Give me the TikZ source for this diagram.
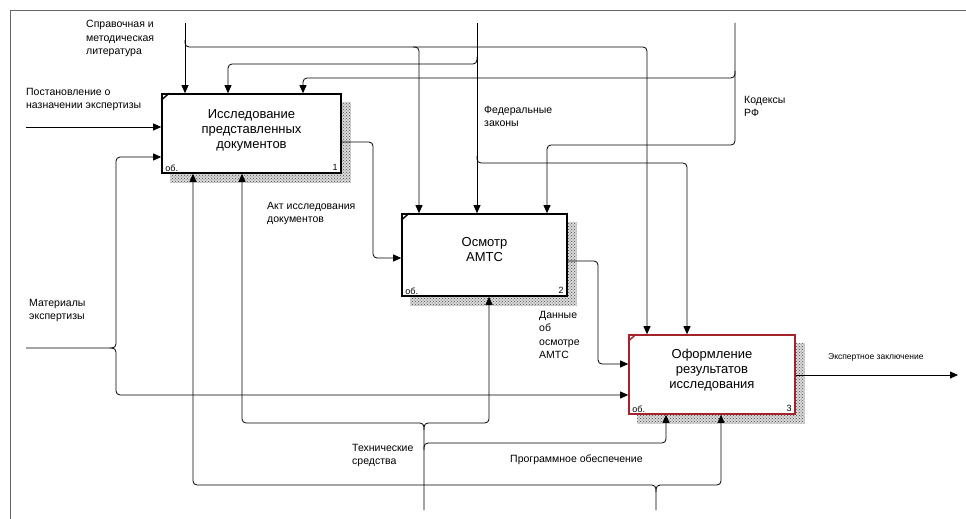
\documentclass[tikz,border=0pt]{standalone}
\usepackage{fontspec}
\setmainfont{Liberation Sans}
\usetikzlibrary{arrows.meta,patterns,calc,backgrounds}
\definecolor{boxred}{RGB}{165,35,45}
\begin{document}
\begin{tikzpicture}[x=1pt,y=-1pt,
  conn/.style={line width=0.8pt, rounded corners=4pt},
  arr/.style={conn,-{Triangle[length=8pt,width=7pt]}},
  fbox/.style={draw, line width=1.6pt, fill=white, inner sep=0pt},
  boxtext/.style={font=\fontsize{13}{15}\selectfont, align=center, inner sep=0pt},
  corner/.style={font=\fontsize{9}{10}\selectfont, inner sep=0pt},
  lbl/.style={font=\fontsize{10.5}{13.5}\selectfont, align=left, anchor=north west, inner sep=0pt},
  shadowbase/.style={fill=gray!30},
  shadowfill/.style={pattern=crosshatch dots, pattern color=gray!60!black},
  tick/.style={line width=1.4pt}
]
\useasboundingbox (0,0) rectangle (966,519);
% frame
\draw[gray!80!black, line width=0.8pt] (10,519) -- (10,10) -- (966,10);

% boxes
\node[fbox, minimum width=179pt, minimum height=79pt] (b1) at (251.5,133.5) {};
\node[fbox, minimum width=165pt, minimum height=82pt] (b2) at (484.5,255) {};
\node[fbox, draw=boxred, minimum width=166pt, minimum height=79pt] (b3) at (712,374.5) {};

\begin{scope}[on background layer]
  \foreach \b in {b1,b2,b3}{
    \fill[shadowbase] ($(\b.north west)+(9,9)$) rectangle ($(\b.south east)+(9,9)$);
    \fill[shadowfill] ($(\b.north west)+(9,9)$) rectangle ($(\b.south east)+(9,9)$);
  }
\end{scope}

% box texts
\node[boxtext] (t1) at (251.5,130) {Исследование\\представленных\\документов};
\node[boxtext] (t2) at (484.5,250) {Осмотр\\АМТС};
\node[boxtext] (t3) at (712,370) {Оформление\\результатов\\исследования};

\node[corner, anchor=west] (o1) at ($(b1.south west)+(4,-6)$) {об.};
\node[corner, anchor=east] (n1) at ($(b1.south east)+(-4,-6)$) {1};
\node[corner, anchor=west] (o2) at ($(b2.south west)+(4,-6)$) {об.};
\node[corner, anchor=east] (n2) at ($(b2.south east)+(-4,-6)$) {2};
\node[corner, anchor=west] (o3) at ($(b3.south west)+(4,-6)$) {об.};
\node[corner, anchor=east] (n3) at ($(b3.south east)+(-4,-6)$) {3};

% corner ticks
\draw[tick] ($(b1.north west)+(0,7)$) -- ($(b1.north west)+(8,0)$);
\draw[tick] ($(b2.north west)+(0,7)$) -- ($(b2.north west)+(8,0)$);
\draw[tick, boxred] ($(b3.north west)+(0,7)$) -- ($(b3.north west)+(8,0)$);

% free ends
\coordinate (sprav) at (185,23);
\coordinate (fed) at (477,23);
\coordinate (kod) at (735,23);
\coordinate (post) at (26,127);
\coordinate (mat) at (26,348);
\coordinate (tech) at (424,510);
\coordinate (prog) at (656,510);
\coordinate (outend) at (958,375);

% Справочная и методическая литература
\draw[arr] (sprav) -- (185,0 |- b1.north);
\draw[arr] (185,40) -- (185,47) -- (647,47) -- (647,0 |- b3.north);
\draw[arr] (413,47) -- (419,47) -- (419,0 |- b2.north);

% Федеральные законы
\draw[arr] (fed) -- (477,0 |- b2.north);
\draw[arr] (477,57) -- (477,64) -- (228,64) -- (228,0 |- b1.north);
\draw[arr] (477,156) -- (477,163) -- (687,163) -- (687,0 |- b3.north);

% Кодексы РФ
\draw[arr] (kod) -- (735,145) -- (547,145) -- (547,0 |- b2.north);
\draw[arr] (735,71) -- (735,78) -- (303,78) -- (303,0 |- b1.north);

% Постановление
\draw[arr] (post) -- (b1.west |- 0,127);

% Материалы экспертизы
\draw[arr] (mat) -- (116,348) -- (116,157) -- (b1.west |- 0,157);
\draw[arr] (110,348) -- (116,348) -- (116,395) -- (b3.west |- 0,395);

% outputs
\draw[arr] (b1.east |- 0,142) -- (373,142) -- (373,258) -- (b2.west |- 0,258);
\draw[arr] (b2.east |- 0,261) -- (598,261) -- (598,364) -- (b3.west |- 0,364);
\draw[arr] (b3.east |- 0,375) -- (outend);

% Технические средства
\draw[arr] (tech) -- (424,423) -- (242,423) -- (242,0 |- b1.south);
\draw[arr] (424,430) -- (424,423) -- (489,423) -- (489,0 |- b2.south);
\draw[arr] (424,450) -- (424,443) -- (666,443) -- (666,0 |- b3.south);

% Программное обеспечение
\draw[arr] (prog) -- (656,485) -- (193,485) -- (193,0 |- b1.south);
\draw[arr] (656,492) -- (656,485) -- (721,485) -- (721,0 |- b3.south);

% labels
\node[lbl] (lsprav) at (86,20) {Справочная и\\методическая\\литература};
\node[lbl] (lpost) at (26,88) {Постановление о\\назначении экспертизы};
\node[lbl] (lfed) at (484,106) {Федеральные\\законы};
\node[lbl] (lkod) at (744,96) {Кодексы\\РФ};
\node[lbl] (lakt) at (267,202) {Акт исследования\\документов};
\node[lbl] (lmat) at (29,299) {Материалы\\экспертизы};
\node[lbl] (ldan) at (539,311) {Данные\\об\\осмотре\\АМТС};
\node[lbl, font=\fontsize{8.5}{10}\selectfont] (lexp) at (828,353) {Экспертное заключение};
\node[lbl] (ltech) at (352,444) {Технические\\средства};
\node[lbl] (lprog) at (510,455) {Программное обеспечение};
\end{tikzpicture}
\end{document}
